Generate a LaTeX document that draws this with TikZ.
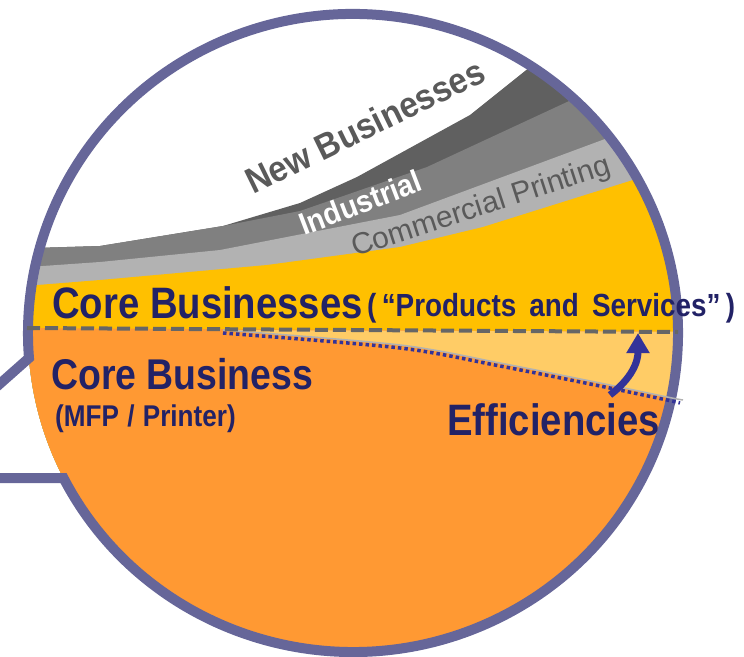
\documentclass[tikz,border=0pt]{standalone}
\usepackage{fontspec}
\setmainfont{Liberation Sans}
\newfontfamily\condbold{Liberation Sans}[UprightFont={* Bold}, FakeStretch=0.87]
\newfontfamily\bandbold{Liberation Sans}[UprightFont={* Bold}, FakeStretch=0.92]
\usepackage{tikz}
\usetikzlibrary{arrows.meta}
\definecolor{rim}{HTML}{666699}
\definecolor{darkband}{HTML}{606060}
\definecolor{midband}{HTML}{808080}
\definecolor{lightband}{HTML}{B2B2B2}
\definecolor{coreyellow}{HTML}{FFC000}
\definecolor{coreorange}{HTML}{FF9933}
\definecolor{effwedge}{HTML}{FFCC66}
\definecolor{navytext}{HTML}{222266}
\definecolor{graytext}{HTML}{5A5A5A}
\definecolor{dashgray}{HTML}{666666}
\definecolor{arrowblue}{HTML}{333399}
\tikzstyle{navylabel} = [text=navytext, inner sep=0pt, anchor=base west, font=\condbold]
\tikzstyle{bandlabel} = [inner sep=0pt, anchor=base west]
\tikzstyle{effarrow} = [draw=arrowblue, line width=7pt, -{Triangle[length=20pt,width=22pt]}]

\begin{document}
\begin{tikzpicture}[x=1pt, y=-1pt]
    \useasboundingbox (0,0) rectangle (744,656);
    % bands inside the bubble
    \begin{scope}
        \clip (353,333) ellipse [x radius=325pt, y radius=319pt];
        \fill[white] (0,0) rectangle (744,700);
        \fill[darkband] (0,249) -- (100,246) -- (223,226) -- (300,203) -- (357,177) -- (470,115) -- (620,-5) -- (744,-5) -- (744,700) -- (0,700) -- cycle;
        \fill[midband] (0,249) -- (100,246) -- (223,226) -- (300,211) -- (427,167) -- (567,102) -- (680,50) -- (744,50) -- (744,700) -- (0,700) -- cycle;
        \fill[lightband] (0,269) -- (100,262) -- (220,250) -- (400,215) -- (605,139) -- (700,104) -- (744,104) -- (744,700) -- (0,700) -- cycle;
        \fill[coreyellow] (0,288) -- (100,280) -- (267,265) -- (400,247) -- (483,227) -- (633,180) -- (720,152) -- (744,152) -- (744,700) -- (0,700) -- cycle;
        \fill[coreorange] (0,328) -- (744,332) -- (744,700) -- (0,700) -- cycle;
        \fill[effwedge] (744,332) -- plot[smooth] coordinates {(223,330) (400,345) (500,363) (600,383) (667,397) (744,414)} -- cycle;
    \end{scope}
    % outline with the tail
    \draw[rim, line width=10pt, line join=miter] (-15,478) -- (63.5,478)
        arc[start angle=207.04, end angle=544.5, x radius=325pt, y radius=319pt] -- (-15,397);
    % efficiency boundary
    \draw[lightband, line width=1.5pt] plot[smooth] coordinates {(223,330) (400,345) (500,363) (600,383) (667,397) (683,400)};
    \draw[arrowblue, line width=3.5pt, dash pattern=on 3.5pt off 3pt, yshift=-3pt] plot[smooth] coordinates {(223,330) (400,345) (500,363) (600,383) (667,397) (680,400)};
    \draw[dashgray, line width=4pt, dash pattern=on 13pt off 5pt] (27,328) -- (678,332);
    % labels
    \node (newbiz) [bandlabel, text=graytext, rotate=26, font=\bandbold\fontsize{36}{40}\selectfont] at (253,195) {New Businesses};
    \node (industrial) [bandlabel, text=white, rotate=21, font=\bandbold\fontsize{31}{36}\selectfont] at (304,236) {Industrial};
    \node (commercial) [bandlabel, text=graytext, rotate=18, font=\fontsize{30}{34}\selectfont] at (355,257) {Commercial Printing};
    \node (corebiz) [navylabel] at (52,318) {\fontsize{44}{48}\selectfont Core Businesses};
    \node (products) [navylabel] at (367,316) {\fontsize{32}{36}\selectfont (\,“Products\ \,and\ \,Services”\,)};
    \node (mfpbiz) [navylabel] at (51,389) {\fontsize{43}{48}\selectfont Core Business};
    \node (mfp) [navylabel] at (55,426) {\fontsize{30}{34}\selectfont (MFP\;/\;Printer)};
    \node (eff) [navylabel] at (447,435) {\fontsize{44}{48}\selectfont Efficiencies};
    % arrow
    \coordinate (arrowtail) at (610,395);
    \coordinate (arrowtip) at (638,333);
    \draw[effarrow] (arrowtail) .. controls (632,378) and (638,362) .. (arrowtip);
\end{tikzpicture}
\end{document}
